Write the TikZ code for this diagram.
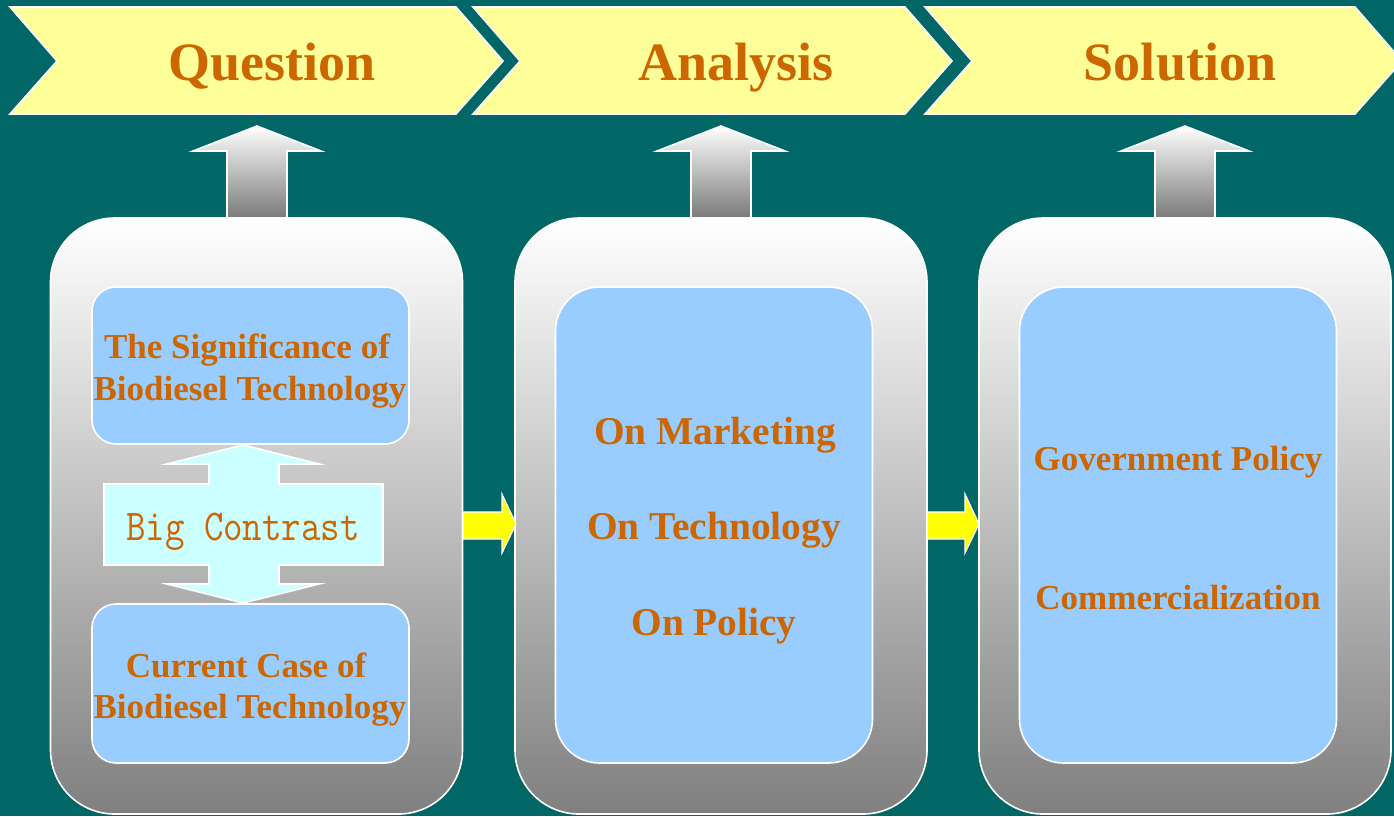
\documentclass[tikz,border=0pt]{standalone}
\usepackage{fontspec}
\setmainfont{Liberation Serif}

\definecolor{bgteal}{HTML}{006666}
\definecolor{labelorange}{HTML}{CC6600}
\definecolor{chevronyellow}{HTML}{FFFF99}
\definecolor{innerblue}{HTML}{99CCFF}
\definecolor{contrastcyan}{HTML}{CCFFFF}
\definecolor{pushyellow}{HTML}{FFFF00}

\tikzset{
  chevron/.style={fill=chevronyellow, draw=white, line width=0.8pt},
  uparrow/.style={top color=white, bottom color=black!53, draw=white, line width=0.8pt},
  pusharrow/.style={fill=pushyellow, draw=white, line width=0.6pt},
  bigbox/.style={top color=white, bottom color=black!50, draw=white, line width=0.8pt,
    rounded corners=32pt, minimum width=206pt, minimum height=298pt, inner sep=0pt},
  innerbox/.style={fill=innerblue, draw=white, line width=0.8pt, minimum width=158.5pt, inner sep=0pt},
  title/.style={text=labelorange, font=\bfseries\fontsize{27}{27}\selectfont, anchor=base},
  itemtext/.style={text=labelorange, font=\bfseries\fontsize{17.5}{17.5}\selectfont, anchor=base},
  bigitem/.style={text=labelorange, font=\bfseries\fontsize{19.7}{19.7}\selectfont, anchor=base},
  contrasttext/.style={text=labelorange, font=\ttfamily\fontsize{22}{22}\selectfont, anchor=base}
}

\begin{document}
\begin{tikzpicture}[x=0.5pt, y=-0.5pt]

  \useasboundingbox (0,0) rectangle (1394,816);
  \fill[bgteal] (0,0) rectangle (1394,816);

  \foreach \xa/\xb in {10/456, 473/905, 925/1355}
    \draw[chevron] (\xa,7) -- (\xb,7) -- ++(47,54) -- (\xb,114) -- (\xa,114) -- ++(47,-53) -- cycle;

  \node[title] (question) at (272,80) {Question};
  \node[title] (analysis) at (736,80) {Analysis};
  \node[title] (solution) at (1180,80) {Solution};

  \foreach \cx in {257, 721, 1185}
    \draw[uparrow] (\cx-30,219) -- (\cx-30,151) -- (\cx-64,151) -- (\cx,126)
      -- (\cx+64,151) -- (\cx+30,151) -- (\cx+30,219) -- cycle;

  \node[bigbox] (colq) at (256.5,516) {};
  \node[bigbox] (cola) at (721,516) {};
  \node[bigbox] (cols) at (1185,516) {};

  \node[innerbox, minimum height=78.5pt, rounded corners=12pt] (signif) at (250.5,365.5) {};
  \node[innerbox, minimum height=79.5pt, rounded corners=12pt] (current) at (250.5,683.5) {};
  \node[innerbox, minimum height=238pt, rounded corners=22pt] (aspects) at (714,525) {};
  \node[innerbox, minimum height=238pt, rounded corners=22pt] (answers) at (1178,525) {};

  \node[itemtext] (signif1) at (247,358) {The Significance of};
  \node[itemtext] (signif2) at (250,400) {Biodiesel Technology};
  \node[itemtext] (current1) at (246,677) {Current Case of};
  \node[itemtext] (current2) at (250,718) {Biodiesel Technology};

  \draw[fill=contrastcyan, draw=white, line width=0.8pt]
    (243,445) -- (319,464) -- (279,464) -- (279,484) -- (383,484) -- (383,565)
    -- (279,565) -- (279,584) -- (319,584) -- (243,603) -- (167,584) -- (209,584)
    -- (209,565) -- (104,565) -- (104,484) -- (209,484) -- (209,464) -- (167,464) -- cycle;
  \node[contrasttext] (contrast) at (243,540) {\scalebox{0.86}[1]{Big Contrast}};

  \node[bigitem] (marketing) at (715,444) {On Marketing};
  \node[bigitem] (technology) at (714,539) {On Technology};
  \node[bigitem] (policy) at (714,635) {On Policy};

  \node[itemtext] (government) at (1178,470) {Government Policy};
  \node[itemtext] (commercial) at (1178,609) {Commercialization};

  \foreach \xs/\xh in {463/502, 927/965}
    \draw[pusharrow] (\xs,512) -- (\xh,512) -- (\xh,494) -- (\xh+14,524)
      -- (\xh,553) -- (\xh,539) -- (\xs,539) -- cycle;

\end{tikzpicture}
\end{document}
